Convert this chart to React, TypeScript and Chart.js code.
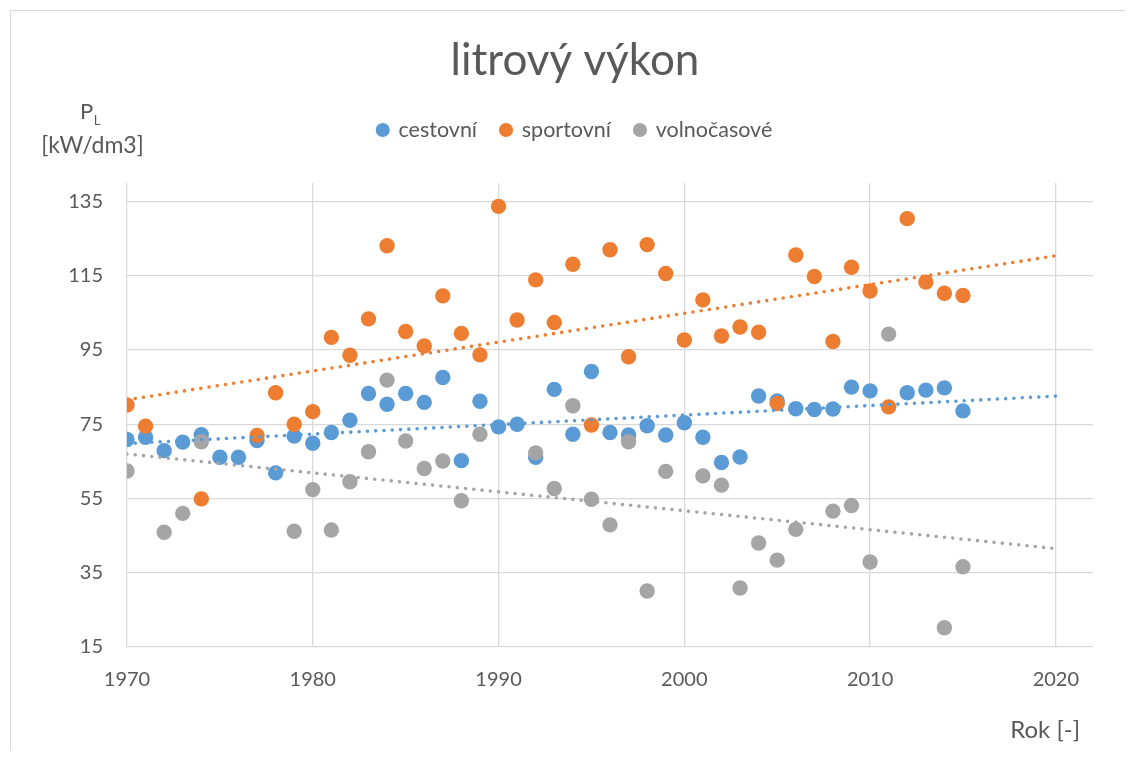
import React, { useEffect, useRef } from "react";
import { Chart, registerables } from "chart.js";

Chart.register(...registerables);

// ---- data ----
const cestovniYears = [1970, 1971, 1972, 1973, 1974, 1975, 1976, 1977, 1978, 1979, 1980, 1981, 1982, 1983, 1984, 1985, 1986, 1987, 1988, 1989, 1990, 1991, 1992, 1993, 1994, 1995, 1996, 1997, 1998, 1999, 2000, 2001, 2002, 2003, 2004, 2005, 2006, 2007, 2008, 2009, 2010, 2012, 2013, 2014, 2015];
const cestovniValues = [70.9, 71.5, 67.9, 70.2, 72.2, 66.1, 66.1, 70.6, 61.9, 71.8, 69.9, 72.8, 76.1, 83.3, 80.4, 83.3, 80.9, 87.6, 65.2, 81.2, 74.3, 75.0, 66.1, 84.4, 72.3, 89.2, 72.8, 72.1, 74.6, 72.1, 75.4, 71.5, 64.7, 66.2, 82.6, 81.3, 79.2, 79.0, 79.1, 85.0, 84.0, 83.5, 84.2, 84.8, 78.6];

const sportovniYears = [1970, 1971, 1974, 1977, 1978, 1979, 1980, 1981, 1982, 1983, 1984, 1985, 1986, 1987, 1988, 1989, 1990, 1991, 1992, 1993, 1994, 1995, 1996, 1997, 1998, 1999, 2000, 2001, 2002, 2003, 2004, 2005, 2006, 2007, 2008, 2009, 2010, 2011, 2012, 2013, 2014, 2015];
const sportovniValues = [80.2, 74.5, 54.9, 72.0, 83.5, 75.0, 78.4, 98.4, 93.6, 103.4, 123.1, 100.0, 96.1, 109.6, 99.5, 93.7, 133.7, 103.1, 113.9, 102.4, 118.1, 74.8, 122.0, 93.2, 123.4, 115.6, 97.7, 108.5, 98.8, 101.2, 99.8, 80.6, 120.6, 114.8, 97.3, 117.3, 110.9, 79.7, 130.4, 113.3, 110.3, 109.7];

const volnocasoveYears = [1970, 1972, 1973, 1974, 1979, 1980, 1981, 1982, 1983, 1984, 1985, 1986, 1987, 1988, 1989, 1992, 1993, 1994, 1995, 1996, 1997, 1998, 1999, 2001, 2002, 2003, 2004, 2005, 2006, 2008, 2009, 2010, 2011, 2014, 2015];
const volnocasoveValues = [62.4, 45.9, 51.0, 70.3, 46.2, 57.4, 46.5, 59.5, 67.6, 86.9, 70.5, 63.1, 65.1, 54.4, 72.3, 67.3, 57.7, 80.0, 54.8, 47.9, 70.3, 30.1, 62.3, 61.1, 58.6, 30.9, 43.0, 38.4, 46.7, 51.6, 53.1, 37.9, 99.3, 20.2, 36.6];

// linear trend lines (Excel trendlines): value at trendFrom and trendTo
const trendYears = [1970, 2020];
const cestovniTrend = [69.8, 82.6];
const sportovniTrend = [81.6, 120.4];
const volnocasoveTrend = [67.0, 41.5];

const seriesNames = ["cestovní", "sportovní", "volnočasové"];
const seriesColors = ["#5B9BD5", "#ED7D31", "#A5A5A5"];

const xTickValues = [1970, 1980, 1990, 2000, 2010, 2020];
const yTickValues = [15, 35, 55, 75, 95, 115, 135];
const xMin = 1970;
const xMax = 2022;
const yMin = 15;
const yMax = 140;

const chartTitle = "litrový výkon";
const yTitleMain = "P";
const yTitleSub = "L";
const yTitleUnit = "[kW/dm3]";
const xTitle = "Rok [-]";

const FONT = "Lato, 'Open Sans', sans-serif";
const TEXT = "#595959";
const GRID = "#D9D9D9";

function toPoints(xs: number[], ys: number[]) {
  return xs.map((x, i) => ({ x, y: ys[i] }));
}

const LEGEND_H = 87.75;

const decorPlugin = {
  id: "decor",
  beforeInit(chart: any) {
    const lg = chart.legend;
    if (lg && !lg.__patched) {
      const orig = lg.fit.bind(lg);
      lg.fit = function () {
        orig();
        this.height = LEGEND_H;
      };
      lg.__patched = true;
    }
  },
  afterDraw(chart: any) {
    const ctx = chart.ctx as CanvasRenderingContext2D;
    ctx.save();
    // outer chart border (top and left visible)
    ctx.strokeStyle = GRID;
    ctx.lineWidth = 1;
    ctx.beginPath();
    ctx.moveTo(2.5, chart.height);
    ctx.lineTo(2.5, 2.5);
    ctx.lineTo(chart.width, 2.5);
    ctx.stroke();

    ctx.fillStyle = TEXT;
    ctx.textBaseline = "alphabetic";
    // y axis title
    ctx.font = `22px ${FONT}`;
    ctx.textAlign = "left";
    ctx.fillText(yTitleMain, 72, 111.3);
    const pw = ctx.measureText(yTitleMain).width;
    ctx.font = `13px ${FONT}`;
    ctx.fillText(yTitleSub, 72 + pw + 0.5, 117);
    ctx.font = `23px ${FONT}`;
    ctx.textAlign = "center";
    ctx.fillText(yTitleUnit, 84.5, 145);
    // x axis title
    ctx.font = `24px ${FONT}`;
    ctx.textAlign = "right";
    ctx.fillText(xTitle, 1072, 730);
    ctx.restore();
  },
};

export default function App() {
  const ref = useRef<HTMLCanvasElement | null>(null);

  useEffect(() => {
    if (!ref.current) return;
    const scatterBase = (i: number, xs: number[], ys: number[], order: number) => ({
      label: seriesNames[i],
      data: toPoints(xs, ys),
      backgroundColor: seriesColors[i],
      borderColor: seriesColors[i],
      pointBackgroundColor: seriesColors[i],
      pointBorderColor: seriesColors[i],
      pointBorderWidth: 0,
      pointRadius: 7.7,
      pointStyle: "circle",
      showLine: false,
      order,
    });
    const trendBase = (i: number, ys: number[]) => ({
      label: seriesNames[i] + " trend",
      data: toPoints(trendYears, ys),
      borderColor: seriesColors[i],
      backgroundColor: seriesColors[i],
      borderWidth: 3.6,
      borderDash: [0, 8.3],
      borderCapStyle: "round",
      pointRadius: 0,
      showLine: true,
      fill: false,
      order: 0,
    });

    const chart = new Chart(ref.current, {
      type: "scatter",
      data: {
        datasets: [
          scatterBase(0, cestovniYears, cestovniValues, 3),
          scatterBase(1, sportovniYears, sportovniValues, 2),
          scatterBase(2, volnocasoveYears, volnocasoveValues, 1),
          trendBase(0, cestovniTrend),
          trendBase(1, sportovniTrend),
          trendBase(2, volnocasoveTrend),
        ] as any,
      },
      options: {
        animation: false,
        responsive: false,
        events: [],
        layout: { padding: { left: 49, right: 32, top: 0, bottom: 0 } },
        plugins: {
          title: {
            display: true,
            text: chartTitle,
            color: TEXT,
            font: { family: FONT, size: 44, weight: "normal" },
            padding: { top: 26.3, bottom: 8.15 },
          },
          legend: {
            display: true,
            position: "top",
            labels: {
              color: TEXT,
              font: { family: FONT, size: 21.5 },
              usePointStyle: true,
              boxWidth: 10,
              boxHeight: 10,
              padding: 24,
              filter: (item: any) => item.datasetIndex < 3,
              sort: (a: any, b: any) => a.datasetIndex - b.datasetIndex,
            },
          },
          tooltip: { enabled: false },
        },
        scales: {
          x: {
            type: "linear",
            min: xMin,
            max: xMax,
            afterBuildTicks: (scale: any) => {
              scale.ticks = xTickValues.map((v) => ({ value: v }));
            },
            afterFit: (scale: any) => {
              scale.height = 103;
            },
            ticks: {
              color: TEXT,
              font: { family: FONT, size: 20 },
              padding: 21,
              maxRotation: 0,
              autoSkip: false,
              callback: (v: any) => String(v),
            },
            grid: { color: GRID, lineWidth: 1.3, drawTicks: false },
            border: { display: false },
          },
          y: {
            type: "linear",
            min: yMin,
            max: yMax,
            afterBuildTicks: (scale: any) => {
              scale.ticks = yTickValues.map((v) => ({ value: v }));
            },
            afterFit: (scale: any) => {
              scale.width = 70;
            },
            ticks: {
              color: TEXT,
              font: { family: FONT, size: 20 },
              padding: 24,
              autoSkip: false,
              callback: (v: any) => String(v),
            },
            grid: { color: GRID, lineWidth: 1.3, drawTicks: false },
            border: { display: false },
          },
        },
      } as any,
      plugins: [decorPlugin as any],
    });
    return () => chart.destroy();
  }, []);

  return (
    <div style={{ width: 1117, height: 742 }}>
      <canvas ref={ref} width={1117} height={742} style={{ display: "block", width: 1117, height: 742 }} />
    </div>
  );
}
